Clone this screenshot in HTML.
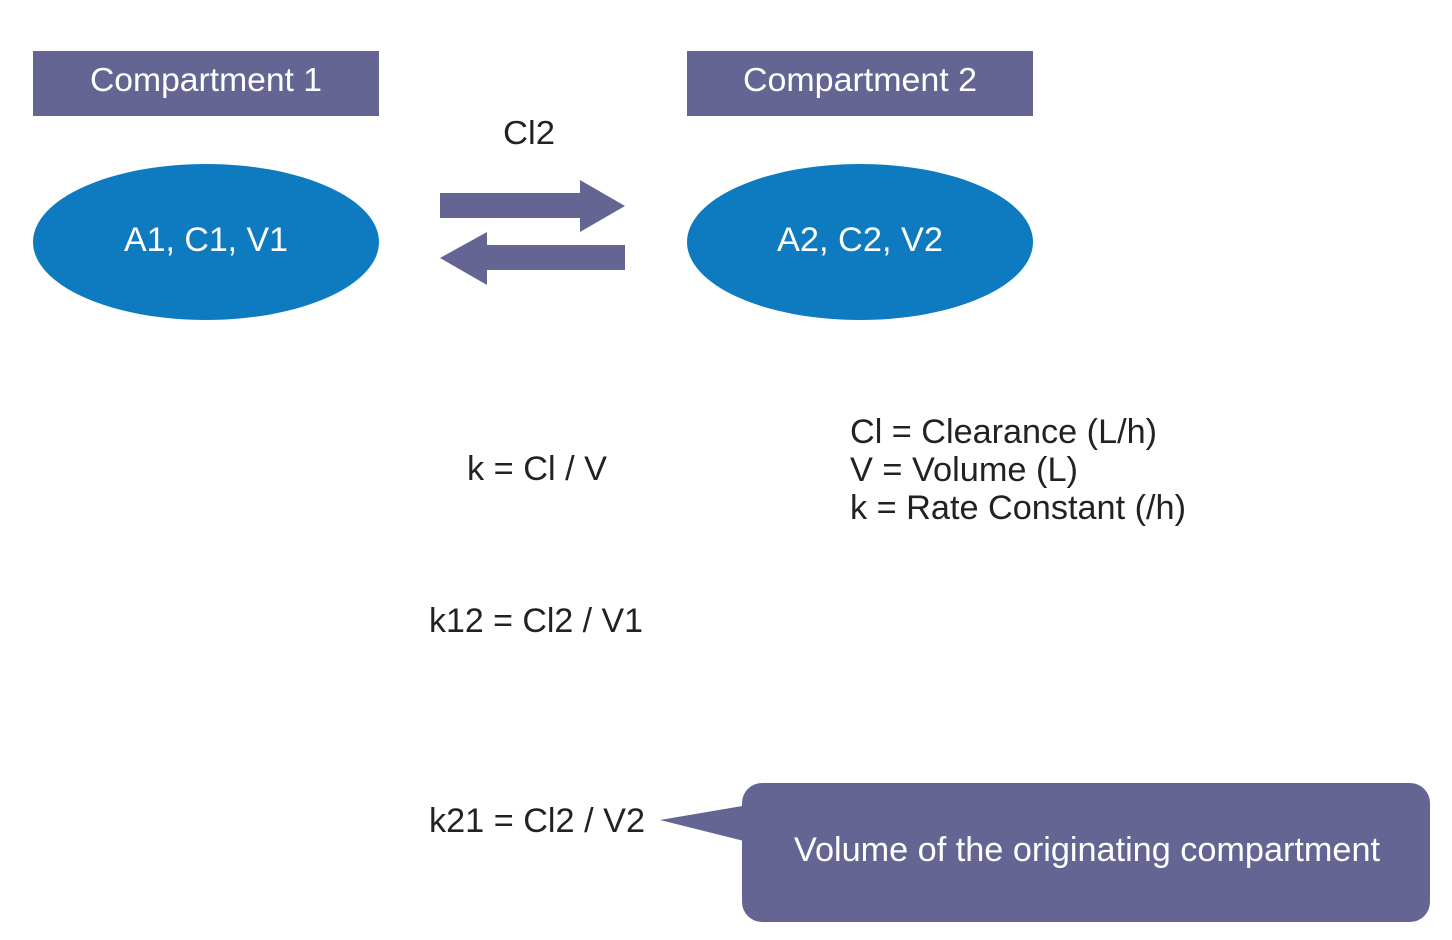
<!DOCTYPE html>
<html><head><meta charset="utf-8"><style>
html,body{margin:0;padding:0;background:#fff;width:1452px;height:940px;overflow:hidden}
svg{display:block}
text{font-family:"Liberation Sans",Arial,sans-serif}
</style></head><body>
<svg width="1452" height="940" viewBox="0 0 1452 940" xmlns="http://www.w3.org/2000/svg">
<rect x="33" y="51" width="346" height="65" fill="#656594"/>
<text x="206" y="91" font-size="33" fill="#fff" text-anchor="middle" textLength="232" lengthAdjust="spacingAndGlyphs">Compartment 1</text>
<rect x="687" y="51" width="346" height="65" fill="#656594"/>
<text x="860" y="91" font-size="33" fill="#fff" text-anchor="middle" textLength="234" lengthAdjust="spacingAndGlyphs">Compartment 2</text>
<ellipse cx="206" cy="242" rx="173" ry="78" fill="#0e7bc0"/>
<text x="206" y="251" font-size="34" fill="#fff" text-anchor="middle" textLength="164" lengthAdjust="spacingAndGlyphs">A1, C1, V1</text>
<ellipse cx="860" cy="242" rx="173" ry="78" fill="#0e7bc0"/>
<text x="860" y="251" font-size="34" fill="#fff" text-anchor="middle" textLength="166" lengthAdjust="spacingAndGlyphs">A2, C2, V2</text>
<text x="529" y="144" font-size="33" fill="#222" text-anchor="middle" textLength="52" lengthAdjust="spacingAndGlyphs">Cl2</text>
<polygon points="440,193 580,193 580,180 625,206 580,232 580,218 440,218" fill="#656594"/>
<polygon points="625,245 487,245 487,232 440,258 487,285 487,270 625,270" fill="#656594"/>
<text x="467" y="480" font-size="34" fill="#222" textLength="140" lengthAdjust="spacingAndGlyphs">k = Cl / V</text>
<text x="850" y="443" font-size="34" fill="#222" textLength="307" lengthAdjust="spacingAndGlyphs">Cl = Clearance (L/h)</text>
<text x="850" y="481" font-size="34" fill="#222" textLength="228" lengthAdjust="spacingAndGlyphs">V = Volume (L)</text>
<text x="850" y="519" font-size="34" fill="#222" textLength="336" lengthAdjust="spacingAndGlyphs">k = Rate Constant (/h)</text>
<text x="429" y="632" font-size="34" fill="#222" textLength="214" lengthAdjust="spacingAndGlyphs">k12 = Cl2 / V1</text>
<text x="429" y="832" font-size="34" fill="#222" textLength="216" lengthAdjust="spacingAndGlyphs">k21 = Cl2 / V2</text>
<rect x="742" y="783" width="688" height="139" rx="20" fill="#656594"/>
<polygon points="660,820 748,805 748,842" fill="#656594"/>
<text x="1087" y="861" font-size="34" fill="#fff" text-anchor="middle" textLength="586" lengthAdjust="spacingAndGlyphs">Volume of the originating compartment</text>
</svg>
</body></html>
